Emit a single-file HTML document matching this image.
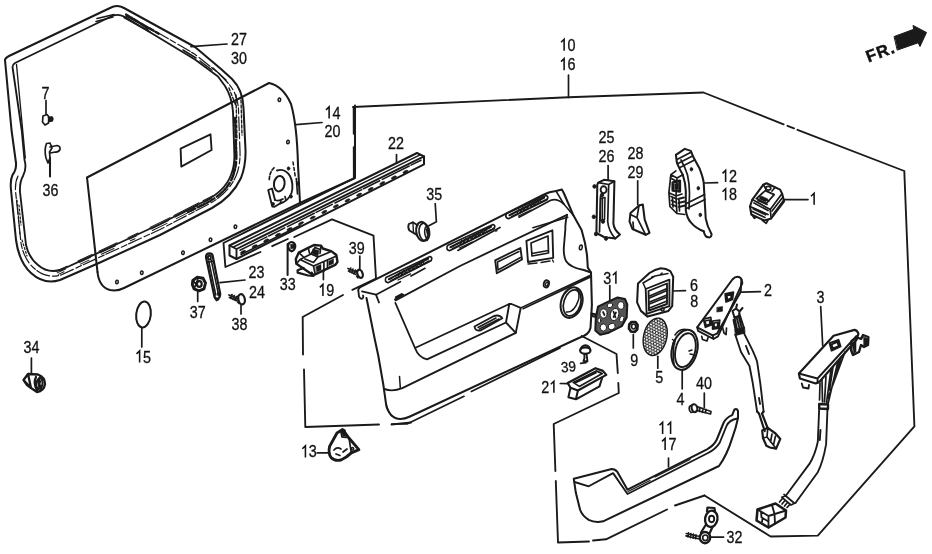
<!DOCTYPE html>
<html><head><meta charset="utf-8"><title>Door lining</title>
<style>
html,body{margin:0;padding:0;background:#fff;}
body{width:932px;height:554px;overflow:hidden;}
svg{display:block;filter:grayscale(1);}
svg path,svg ellipse,svg line,svg circle,svg polygon,svg polyline,svg rect{fill:none;stroke:#1a1a1a;stroke-linecap:round;stroke-linejoin:round;}
svg text{font-family:"Liberation Sans",sans-serif;fill:#111;stroke:#111;stroke-width:0.3px;}
svg .f{fill:#1a1a1a;}
svg .w{fill:#fff;}
</style></head><body>
<svg width="932" height="554" viewBox="0 0 932 554">
<rect x="0" y="0" width="932" height="554" style="fill:#fff;stroke:none"/>
<path d="M5,60 L11.5,130 L16,163 Q16.5,170 12.5,175 Q10,180 11,190 L16,240 Q19,262 31,273 Q44,285 60,280 L100,262.5 L160,235 L212,208 Q232,197 241,178 Q246,165 245.5,150 L243.5,108 Q243,90 232,79 L221,69 L195,47 L124,8 Q117,4 110,8 L9,56 Q5,58 5,60 Z" stroke-width="2.04" />
<path d="M12.5,67 L21.7,130 L24.5,160 Q27,168 23,176 Q19.5,182 20,192 L26,245 Q29,258 38,265 Q48,274 62,269.5 L100,252 L160,224 L205,201 Q225,191 231,175 Q235,165 234.3,153 L233,112 Q232,97 225,86 L218,76.5 L195,59.5 L124,16.5 Q117,13 110,17 L15,63 Q12.5,64.5 12.5,67 Z" stroke-width="1.87" />
<path d="M18,176 Q15,182 15.5,191 L21,243 Q24,260 35,269 Q46,279 61,275 L100,257 L160,229.5 L208,204.5 Q228,194 236,176 Q240.5,165 240,151 L238.5,110 Q238,94 228,83 L219,73.5 L194.5,54 L150,28" stroke-width="1.19" stroke-dasharray="14 3 6 2"/>
<path d="M97,18.5 L114,14.5 M96,21.5 L113,17 M124,17.5 L150,32 M126,16 L152,30 M133,19 L148,29 M183,50 L196,58 M200,61 L212,70 M213,68 L226,80" stroke-width="1.53" />
<path d="M236,95 L237,140 M241,100 L242,135 M236,150 L233,175 M229,88 L236,106" stroke-width="1.36" stroke-dasharray="3 2"/>
<path d="M56.0,271.2 L67.0,266.1 M57.2,272.9 L65.5,269.0 M58.4,274.4 L64.0,271.8 M78.0,261.0 L92.0,254.4 M79.2,262.6 L90.5,257.3 M80.4,264.1 L89.0,260.1 M99.0,251.2 L117.0,242.8 M100.2,252.8 L115.5,245.7 M101.4,254.3 L114.0,248.5 M128.0,237.6 L138.0,233.0 M129.2,239.3 L136.5,235.9 M130.4,240.8 L135.0,238.7 M150.0,227.4 L170.0,217.6 M151.2,229.0 L168.5,220.6 M152.4,230.5 L167.0,223.4 M174.0,215.5 L199.0,202.8 M175.2,217.1 L197.5,205.7 M176.4,218.6 L196.0,208.6 M203.0,200.7 L213.0,195.6 M204.2,202.3 L211.5,198.6 M205.4,203.8 L210.0,201.4" stroke-width="1.02" />
<path d="M17,200 L20,235 M19,205 L21,225 M22,240 L27,256" stroke-width="1.19" stroke-dasharray="2 2"/>
<path d="M16.5,64.5 L25.3,158" stroke-width="1.36" />
<path d="M235,118 L236.3,153 Q237,165 233,176 Q227,192.5 206.5,203 L188,212" stroke-width="2.38" stroke-dasharray="5 2 2 2 8 3"/>
<path d="M126,14.5 L160,34.5" stroke-width="2.21" stroke-dasharray="4 1.5 2 1.5 6 2"/>
<line x1="191.0" y1="46.6" x2="227.0" y2="44.0" stroke-width="1.70" />
<text x="231.0" y="45.0" font-size="16.2" textLength="15.9" lengthAdjust="spacingAndGlyphs">27</text>
<text x="231.0" y="64.2" font-size="16.2" textLength="15.9" lengthAdjust="spacingAndGlyphs">30</text>
<path d="M97.5,272 L87,177.5 L269,83 Q283,86 291,104 Q297,125 298,165 L300,203 L355,178 L355,105.5" stroke-width="2.04" />
<path d="M97.5,272 Q99,287 110,290 Q117,291.5 124,288 L300,203" stroke-width="2.04" />
<path d="M180.6,148.6 L210.5,134.3 L211.6,150 L181.3,166.6 Z" stroke-width="1.87" />
<ellipse cx="117.0" cy="282.0" rx="1.3" ry="1.8" transform="rotate(10 117.0 282.0)" stroke-width="1.53" />
<ellipse cx="141.8" cy="272.7" rx="1.3" ry="1.8" transform="rotate(10 141.8 272.7)" stroke-width="1.53" />
<ellipse cx="183.0" cy="252.7" rx="1.3" ry="1.8" transform="rotate(10 183.0 252.7)" stroke-width="1.53" />
<ellipse cx="210.5" cy="239.7" rx="1.3" ry="1.8" transform="rotate(10 210.5 239.7)" stroke-width="1.53" />
<ellipse cx="235.4" cy="226.7" rx="1.3" ry="1.8" transform="rotate(10 235.4 226.7)" stroke-width="1.53" />
<ellipse cx="279.4" cy="99.7" rx="1.3" ry="1.8" transform="rotate(10 279.4 99.7)" stroke-width="1.53" />
<ellipse cx="288.0" cy="142.0" rx="1.3" ry="1.8" transform="rotate(10 288.0 142.0)" stroke-width="1.53" />
<line x1="296.0" y1="124.6" x2="322.0" y2="122.5" stroke-width="1.70" />
<path d="M326.02,109.91 L329.12,106.92 L329.12,118.50" style="stroke:#111;stroke-width:1.55;stroke-linecap:butt;stroke-linejoin:miter;fill:none"/>
<text x="332.5" y="118.5" font-size="16.2" textLength="8.0" lengthAdjust="spacingAndGlyphs">4</text>
<text x="324.5" y="137.0" font-size="16.2" textLength="15.9" lengthAdjust="spacingAndGlyphs">20</text>
<ellipse cx="279.3" cy="183.7" rx="5.3" ry="7.8" transform="rotate(8 279.3 183.7)" stroke-width="2.04" />
<path d="M277,170.5 Q285,168 290,176 Q294,184 291.5,193 Q288.5,201 280,203.5 L274.6,206.8 L272.3,206.6 L268.2,190 L272,188.5 L275,200" stroke-width="1.87" />
<path d="M269.3,179.6 Q269.5,171 275.5,166.5" stroke-width="1.70" stroke-dasharray="3 2"/>
<path d="M275,200 Q279,201.5 283,199 M280.5,203.5 L281,199.5 M286,200.5 L285,196.5 M296.3,178.5 L297.5,194" stroke-width="1.70" />
<path d="M293,162 L295.5,178" stroke-width="1.53" stroke-dasharray="3 2.5"/>
<ellipse class="f" cx="288.5" cy="168.5" rx="1.4" ry="1.8" stroke-width="0.6"/>
<ellipse class="f" cx="291.0" cy="196.5" rx="1.4" ry="1.8" stroke-width="0.6"/>
<ellipse class="f" cx="273.0" cy="204.0" rx="1.4" ry="1.8" stroke-width="0.6"/>
<ellipse class="f" cx="298.0" cy="183.5" rx="1.4" ry="1.8" stroke-width="0.6"/>
<text x="41.5" y="98.5" font-size="16.2" textLength="8.0" lengthAdjust="spacingAndGlyphs">7</text>
<line x1="46.0" y1="100.5" x2="46.0" y2="114.0" stroke-width="1.70" />
<path d="M43,116 L47,114.5 L49,117 L48.5,123 L45,125 L42.5,122 Z M48.5,117.5 L52,117 Q53.5,119 52,121 L48.8,121.5" stroke-width="1.70" />
<path class="f" d="M48.5,117.5 L52,117 Q53.5,119 52,121 L48.8,121.5 Z" stroke-width="0.6"/>
<path d="M46.5,143.5 Q44,150 46,158 L48,163 L50,158 L49.5,152 L52,148 L50,143 Z M50,147 L57,145.5 Q60.5,146 60,149.5 Q58.5,152.5 55,152 L50.5,153" stroke-width="1.70" />
<line x1="50.0" y1="158.0" x2="50.0" y2="176.5" stroke-width="2.04" />
<text x="42.5" y="195.5" font-size="16.2" textLength="15.9" lengthAdjust="spacingAndGlyphs">36</text>
<text x="23.5" y="353.0" font-size="16.2" textLength="15.9" lengthAdjust="spacingAndGlyphs">34</text>
<line x1="31.4" y1="358.0" x2="31.4" y2="373.0" stroke-width="1.70" />
<path d="M23.5,380 L28,374 L38,374.5 Q45,377 45,384 Q44,391 37,392 L31,388 Z M28,374 L31,388 M36,377 Q33,383 37,390 M40,377 Q37,383 41,389 M23.5,380 L27,385 L31,388" stroke-width="2.29" />
<ellipse cx="39.5" cy="383.5" rx="3.0" ry="5.5" transform="rotate(10 39.5 383.5)" stroke-width="2.04" />
<path d="M37.5,380 L41,387 M41.5,379.5 L38,387.5" stroke-width="1.53" />
<ellipse cx="143.5" cy="314.5" rx="7.3" ry="13.0" transform="rotate(6 143.5 314.5)" stroke-width="2.04" />
<line x1="141.8" y1="328.0" x2="141.8" y2="347.0" stroke-width="1.70" />
<path d="M136.52,353.91 L139.62,350.92 L139.62,362.50" style="stroke:#111;stroke-width:1.55;stroke-linecap:butt;stroke-linejoin:miter;fill:none"/>
<text x="143.0" y="362.5" font-size="16.2" textLength="8.0" lengthAdjust="spacingAndGlyphs">5</text>
<path d="M192.8,280.5 L197,277.3 L203,278.3 L205.5,283 L204,288.8 L199,290.8 L194,288.8 L192.3,284.5 Z" stroke-width="2.89" />
<ellipse cx="199.3" cy="284.0" rx="2.4" ry="2.8" transform="rotate(0 199.3 284.0)" stroke-width="2.21" />
<path d="M193,280.5 L196,284.3 L194,288.8 M196,284.3 L197,281 M197,277.3 L198,281" stroke-width="1.70" />
<line x1="197.7" y1="292.0" x2="197.7" y2="301.5" stroke-width="1.70" />
<text x="189.8" y="318.0" font-size="16.2" textLength="15.9" lengthAdjust="spacingAndGlyphs">37</text>
<path d="M206,257.2 Q206,253.6 209.3,253.4 Q212.8,253.6 212.8,256.5 L220.2,293.7 Q220.3,298 217.2,298.8 Q214.5,298.6 214.2,295.4 Z" stroke-width="2.21" />
<path d="M208.7,261 L215.8,295 M211.2,260 L218.4,294" stroke-width="1.53" />
<ellipse cx="209.4" cy="257.6" rx="1.5" ry="1.9" transform="rotate(0 209.4 257.6)" stroke-width="1.87" />
<ellipse class="f" cx="218.8" cy="294" rx="1.6" ry="2" stroke-width="0.6"/>
<path d="M207,262.5 L213.5,261 M214.5,297.2 L216.5,300.5 L218.5,299.5" stroke-width="1.70" />
<line x1="220.0" y1="282.7" x2="245.0" y2="280.0" stroke-width="1.70" />
<text x="248.6" y="277.5" font-size="16.2" textLength="15.9" lengthAdjust="spacingAndGlyphs">23</text>
<text x="249.0" y="298.0" font-size="16.2" textLength="15.9" lengthAdjust="spacingAndGlyphs">24</text>
<path d="M229,295 L237.5,298.5 M229.5,297.5 L237,300.7 M230.8,298.3 L232,294.6 M233,299.3 L234.2,295.6 M235.2,300.3 L236.4,296.6" stroke-width="1.87" />
<ellipse cx="241.6" cy="299.3" rx="3.2" ry="5.2" transform="rotate(-12 241.6 299.3)" stroke-width="2.21" />
<path d="M238.6,295.5 L237.2,296.8 M239,303.5 L237.5,302" stroke-width="1.53" />
<line x1="241.0" y1="305.5" x2="241.0" y2="314.0" stroke-width="1.70" />
<text x="231.6" y="330.2" font-size="16.2" textLength="15.9" lengthAdjust="spacingAndGlyphs">38</text>
<path d="M288.3,245 Q288.5,242.3 291.5,242 Q295,242.5 295.3,246 Q295,250.5 291.5,251.3 Q288.6,250.5 288.3,247" stroke-width="2.21" />
<path class="f" d="M290.5,244.5 L294,244.3 L294.2,248.3 L291,248.8 Z" stroke-width="0.6"/>
<line x1="287.6" y1="244.0" x2="287.6" y2="275.0" stroke-width="2.04" />
<text x="279.8" y="289.7" font-size="16.2" textLength="15.9" lengthAdjust="spacingAndGlyphs">33</text>
<path d="M295.8,259 L298.8,252.6 L308.2,247.9 L314,245 L321,245.6 L322.8,248.5 L331.6,251.4 L336.3,255 L337.5,262 L335.2,264.9 L315.2,274.3 L312.5,274.8 L296.4,263.8 Z" stroke-width="2.38" />
<path d="M297.6,270.2 L302.3,268.5 M311.7,272.6 L313.5,276 L308.2,275.5 L297.6,272.6 L297.6,270.2 L303.5,268" stroke-width="2.21" />
<path d="M296.4,263.8 L300,259.5 L313.5,266 L336.5,256 M313.5,266 L315.2,274.3 M298.8,252.6 L304,257.5 L300,259.5 M304,257.5 L311,254 L315,247.5 M308.2,247.9 L309.5,253 M311,254 L318,257 L330,252 M318,257 L313.5,262.5 L305,259 M321,245.6 L320,253.5 M315,247.5 L320,249.5 M323.9,262 L323.9,271 M327.5,260.5 L327.5,268.5" stroke-width="1.70" />
<path class="f" d="M316,266.5 L321,264.5 L321,270 L316.5,272 Z M329,261 L333.5,258.8 L333.5,263.5 L329,265.5 Z M313,249 L319,250.5 L318,256 L312.5,254 Z" stroke-width="0.5"/>
<line x1="323.4" y1="271.0" x2="323.4" y2="279.6" stroke-width="1.70" />
<path d="M319.82,287.41 L322.92,284.42 L322.92,296.00" style="stroke:#111;stroke-width:1.55;stroke-linecap:butt;stroke-linejoin:miter;fill:none"/>
<text x="326.3" y="296.0" font-size="16.2" textLength="8.0" lengthAdjust="spacingAndGlyphs">9</text>
<text x="348.8" y="253.8" font-size="16.2" textLength="15.9" lengthAdjust="spacingAndGlyphs">39</text>
<line x1="359.8" y1="256.1" x2="359.8" y2="269.0" stroke-width="1.70" />
<path d="M348,268.5 L356,272 M348.5,271 L355.5,274.3 M349.5,271.8 L350.8,268 M351.8,272.8 L353,269 M354,274 L355.3,270" stroke-width="1.70" />
<ellipse cx="360.0" cy="273.8" rx="2.6" ry="4.2" transform="rotate(-20 360.0 273.8)" stroke-width="2.21" />
<path d="M357.5,270.5 L356,271.5 M358,278 L356.5,276" stroke-width="1.53" />
<text x="426.3" y="200.3" font-size="16.2" textLength="15.9" lengthAdjust="spacingAndGlyphs">35</text>
<path d="M435.2,203.5 L436.4,221.7 L428.8,225.8" stroke-width="1.70" />
<path d="M417.6,225.2 L412.9,222.3 L408.8,224 Q407.5,227 409.4,230.5 L416.4,234.6" stroke-width="1.87" />
<path d="M412.9,222.3 L413.5,232.8" stroke-width="1.36" />
<ellipse cx="422.2" cy="231.4" rx="6.0" ry="9.6" transform="rotate(-8 422.2 231.4)" stroke-width="2.04" />
<ellipse cx="424.3" cy="232.0" rx="5.2" ry="8.8" transform="rotate(-8 424.3 232.0)" stroke-width="1.70" />
<path d="M425.5,227 Q423.5,232 426,237.5 M426.5,229.5 L427.5,234" stroke-width="1.53" />
<text x="388.0" y="149.3" font-size="16.2" textLength="15.9" lengthAdjust="spacingAndGlyphs">22</text>
<line x1="396.5" y1="154.5" x2="396.5" y2="163.0" stroke-width="1.70" />
<path d="M229.5,245.5 L417,153 L424,156.3 L424,164.3 L236.5,259 L229.5,255.5 Z" stroke-width="2.04" />
<path d="M236.5,249 L424,156.3 M236.5,249 L229.5,245.5 M236.5,249 L236.5,259" stroke-width="1.87" />
<path d="M233,247.2 L420.5,154.6" stroke-width="1.53" />
<path d="M240,250.2 L421,160.2" stroke-width="1.53" stroke-dasharray="30 2 18 3"/>
<path d="M241,254.5 L300,225.5" stroke-width="1.53" />
<ellipse class="f" cx="243.0" cy="252.0" rx="2.7" ry="1.1" transform="rotate(-26 243.0 252.0)" stroke-width="0.6"/>
<ellipse class="f" cx="254.6" cy="246.3" rx="2.7" ry="1.1" transform="rotate(-26 254.6 246.3)" stroke-width="0.6"/>
<ellipse class="f" cx="266.2" cy="240.5" rx="2.7" ry="1.1" transform="rotate(-26 266.2 240.5)" stroke-width="0.6"/>
<ellipse class="f" cx="277.8" cy="234.8" rx="2.7" ry="1.1" transform="rotate(-26 277.8 234.8)" stroke-width="0.6"/>
<ellipse class="f" cx="289.4" cy="229.1" rx="2.7" ry="1.1" transform="rotate(-26 289.4 229.1)" stroke-width="0.6"/>
<ellipse class="f" cx="301.0" cy="223.3" rx="2.7" ry="1.1" transform="rotate(-26 301.0 223.3)" stroke-width="0.6"/>
<ellipse class="f" cx="312.6" cy="217.6" rx="2.7" ry="1.1" transform="rotate(-26 312.6 217.6)" stroke-width="0.6"/>
<ellipse class="f" cx="324.2" cy="211.9" rx="2.7" ry="1.1" transform="rotate(-26 324.2 211.9)" stroke-width="0.6"/>
<ellipse class="f" cx="335.8" cy="206.2" rx="2.7" ry="1.1" transform="rotate(-26 335.8 206.2)" stroke-width="0.6"/>
<ellipse class="f" cx="347.4" cy="200.4" rx="2.7" ry="1.1" transform="rotate(-26 347.4 200.4)" stroke-width="0.6"/>
<ellipse class="f" cx="359.0" cy="194.7" rx="2.7" ry="1.1" transform="rotate(-26 359.0 194.7)" stroke-width="0.6"/>
<ellipse class="f" cx="370.6" cy="189.0" rx="2.7" ry="1.1" transform="rotate(-26 370.6 189.0)" stroke-width="0.6"/>
<ellipse class="f" cx="382.2" cy="183.2" rx="2.7" ry="1.1" transform="rotate(-26 382.2 183.2)" stroke-width="0.6"/>
<ellipse class="f" cx="393.8" cy="177.5" rx="2.7" ry="1.1" transform="rotate(-26 393.8 177.5)" stroke-width="0.6"/>
<ellipse class="f" cx="405.4" cy="171.8" rx="2.7" ry="1.1" transform="rotate(-26 405.4 171.8)" stroke-width="0.6"/>
<path d="M353.4,107 L353.5,134 M353.5,147 L353.6,178.5" stroke-width="1.36" />
<path d="M353.6,178.5 L223.5,243 L225.4,267 L260.5,252" stroke-width="1.87" />
<path d="M272.2,246.2 L287.8,239 M294.3,237 L332,219.3 L373.5,235.6 L376,278.5 L352.4,289.8" stroke-width="1.87" />
<path d="M343,295 L302.7,317 L303,354.5 M304,369.5 L305.3,427 L379,424.5 M391.5,424.5 L411,422.5" stroke-width="1.87" />
<path d="M353,107 L568.5,97.3 L703.5,92.5 L783.6,124.3 M787.5,125.8 L794,128.3 M797.5,129.8 L904.3,171 L914.4,426.4 L817.8,535.6 L770.6,536.5 L704.5,495.5" stroke-width="1.87" />
<path d="M704.5,495.5 L675,505.5 M667,509.5 L606,539.3 L593,540.5 M589,541.5 L558,542.5 L555.8,481 M555.4,471 L553.7,424 L618.8,393 L618.3,383 M617.8,373 L616.5,354 L581.7,336" stroke-width="1.87" />
<path d="M561.02,42.21 L564.12,39.22 L564.12,50.80" style="stroke:#111;stroke-width:1.55;stroke-linecap:butt;stroke-linejoin:miter;fill:none"/>
<text x="567.5" y="50.8" font-size="16.2" textLength="8.0" lengthAdjust="spacingAndGlyphs">0</text>
<path d="M561.02,61.61 L564.12,58.62 L564.12,70.20" style="stroke:#111;stroke-width:1.55;stroke-linecap:butt;stroke-linejoin:miter;fill:none"/>
<text x="567.5" y="70.2" font-size="16.2" textLength="8.0" lengthAdjust="spacingAndGlyphs">6</text>
<line x1="568.5" y1="75.0" x2="568.5" y2="97.5" stroke-width="1.70" />
<polygon class="f" points="894.4,36.4 913.7,29.3 913,25.4 926.5,32.5 920,46.5 918.2,42.8 897.6,50" stroke-width="1"/>
<text x="868.6" y="62.6" font-size="16.5" font-weight="bold" transform="rotate(-21 868.6 62.6)" style="letter-spacing:1.1px;stroke-width:0.5px">FR.</text>
<path d="M359.8,287.4 L544,194.5 Q549,191.6 556,191 L562,189.6 L564,193.5 L573.5,215.6 L581.6,230 L585,243 L587,255 L587.8,267.6 L591,272.5 L591.9,305 L590.5,328 Q589,335 578.8,338 L410,416.5 Q398,422 391,415 Q386.5,409 386,403.6 L383.3,384.5 L378.2,355.3 L374.5,338 L366.5,298" stroke-width="2.04" />
<path d="M359.8,287.4 Q357.5,289 358.5,292 L359,296.3 Q360.5,299.5 362.5,298.5 Q364,297 363,295.5 M362,291.4 L376,294.7 L379,302.5" stroke-width="1.87" />
<path d="M376,294.7 L400.4,281.7 M411,276 L425,268.3 M457.9,250.4 L500,227.5 M519,217.2 L550.8,200.3 Q557,198 563.8,204" stroke-width="1.70" />
<path d="M395.5,300.4 L460,266 L567,214.8" stroke-width="1.87" />
<path d="M532.9,227.8 L567.8,217.3" stroke-width="1.53" />
<path d="M394.7,299.3 L403.5,294.5 M395.5,297.2 L402,293.8" stroke-width="1.53" />
<path d="M567,214.8 Q565,225 565.4,228.6 L563.8,248 Q563.5,256 566,261 Q570,267.5 583.8,270 L591,272.5" stroke-width="1.87" />
<path d="M563.8,204 L573.5,215.6 M556,191 L563.8,204" stroke-width="1.53" />
<ellipse cx="580.8" cy="247.3" rx="1.4" ry="2.4" transform="rotate(10 580.8 247.3)" stroke-width="1.53" />
<path d="M386.0,277.5 L430.0,256.5 Q433.0,257.5 431.0,260.7 L388.0,282.7 Q384.0,281.7 386.0,277.5 Z" stroke-width="1.70" />
<path d="M389.0,279.2 L428.0,258.7" stroke-width="2.21" stroke-dasharray="5 1.5 3 1"/>
<path d="M391.0,280.7 L431.0,260.1" stroke-width="1.53" stroke-dasharray="7 2 2 1"/>
<path d="M398.0,276.4 L399.9,272.4 L401.8,274.6 L403.7,270.6 L405.5,272.8 L407.4,268.8 L409.3,271.1 L411.2,266.9 L413.1,269.2 L415.0,265.1 L416.9,267.4 L418.7,263.4 L420.6,265.6 L422.5,261.6 L424.4,263.8" stroke-width="1.19" />
<path d="M398.0,280.0 L434.0,262.7" stroke-width="1.36" stroke-dasharray="14 26"/>
<path d="M447.5,245.5 L493.0,224.5 Q496.0,225.5 494.0,228.7 L449.5,250.7 Q445.5,249.7 447.5,245.5 Z" stroke-width="1.70" />
<path d="M450.5,247.2 L491.0,226.7" stroke-width="2.21" stroke-dasharray="5 1.5 3 1"/>
<path d="M452.5,248.7 L494.0,228.1" stroke-width="1.53" stroke-dasharray="7 2 2 1"/>
<path d="M459.9,244.4 L461.8,240.3 L463.8,242.6 L465.7,238.6 L467.7,240.8 L469.6,236.8 L471.6,239.0 L473.5,234.9 L475.5,237.2 L477.4,233.2 L479.4,235.4 L481.3,231.3 L483.3,233.6 L485.2,229.6 L487.2,231.8" stroke-width="1.19" />
<path d="M459.5,248.0 L497.0,230.7" stroke-width="1.36" stroke-dasharray="14 26"/>
<path d="M506.5,213.5 L546.0,195.5 Q549.0,196.5 547.0,199.7 L508.5,218.7 Q504.5,217.7 506.5,213.5 Z" stroke-width="1.70" />
<path d="M509.5,215.2 L544.0,197.7" stroke-width="2.21" stroke-dasharray="5 1.5 3 1"/>
<path d="M511.5,216.7 L547.0,199.1" stroke-width="1.53" stroke-dasharray="7 2 2 1"/>
<path d="M517.4,213.2 L519.1,209.2 L520.8,211.7 L522.5,207.7 L524.1,210.1 L525.8,206.1 L527.5,208.6 L529.2,204.6 L530.9,207.0 L532.6,203.1 L534.3,205.5 L536.0,201.5 L537.7,203.9 L539.4,200.0 L541.1,202.4" stroke-width="1.19" />
<path d="M518.5,216.0 L550.0,201.7" stroke-width="1.36" stroke-dasharray="14 26"/>
<path d="M495.2,260.3 L520.4,248 L522,259.5 L496.8,273.3 Z" stroke-width="1.87" />
<path d="M497.5,262 L519,251.5 M498,270 L520.5,257.5 M497.5,262 L498,270" stroke-width="1.53" />
<path d="M526.4,240.8 L552.4,230.3 L553.2,257.9 L528,262 Z" stroke-width="1.87" />
<path d="M531,243 L548,236 L548.5,253 L532,256 Z M532,253.5 L548.3,250.5" stroke-width="1.70" />
<path d="M528,264 L537,263 M541,262.5 L550,261 M552.5,260 L553.5,262" stroke-width="1.36" />
<ellipse cx="546.4" cy="283.9" rx="2.6" ry="3.6" transform="rotate(15 546.4 283.9)" stroke-width="1.87" />
<ellipse cx="546.8" cy="284.2" rx="1.2" ry="2.0" transform="rotate(15 546.8 284.2)" stroke-width="1.36" />
<ellipse cx="571.6" cy="302.6" rx="10.5" ry="15.6" transform="rotate(17 571.6 302.6)" stroke-width="2.04" />
<ellipse cx="572.2" cy="302.9" rx="8.4" ry="13.4" transform="rotate(17 572.2 302.9)" stroke-width="1.70" />
<path d="M566.5,312 Q574,313 578.5,300 Q580,293 577,289.5" stroke-width="1.53" />
<path d="M395.4,303 L415,348 Q418.5,357.5 427,359.3 L506,322.5 L509.3,304 L415,348" stroke-width="1.87" />
<path d="M509.3,304 L511.5,304 L520.7,307.9 L515.8,332.8 L506,322.5" stroke-width="1.87" />
<path d="M520.7,307.9 L591,275 M523,308.8 L590.5,277" stroke-width="1.53" />
<path d="M515.8,332.8 L402.3,388.2 Q392.5,392 384.4,389" stroke-width="1.87" />
<path d="M399.5,376.4 L400.3,387.8" stroke-width="1.53" />
<path d="M474.5,326.5 L494,316 Q499.5,314.5 502.3,318.2 L481,330.3 Q475,331.5 474.5,326.5 Z" stroke-width="1.87" />
<path d="M478,327.5 L496,318 M479.5,329 L499,319" stroke-width="1.53" />
<path d="M391.7,424 L407,424 L464,396.3 M471.3,391.4 L560,348" stroke-width="1.70" />
<path d="M386,403.6 Q388,412 392,416" stroke-width="1.36" />
<text x="598.5" y="142.6" font-size="16.2" textLength="15.9" lengthAdjust="spacingAndGlyphs">25</text>
<text x="598.5" y="162.0" font-size="16.2" textLength="15.9" lengthAdjust="spacingAndGlyphs">26</text>
<line x1="608.1" y1="165.6" x2="608.1" y2="179.8" stroke-width="1.70" />
<path d="M598.3,182.7 L604,179.8 L614.4,181.3 L613.4,223.4 Q614,230 620,234.5 L615.3,238.6 L607.7,237.6 L604,237 L596.4,233 L597.3,184.5 Z" stroke-width="2.04" />
<path d="M598.3,182.7 L608.7,184.5 L614.4,181.3 M608.7,184.5 L607.7,221.5 Q608.5,231 615.3,238.6 M600.5,196 L599.5,232" stroke-width="1.70" />
<ellipse cx="603.6" cy="189.7" rx="3.0" ry="3.4" transform="rotate(0 603.6 189.7)" stroke-width="1.87" />
<path d="M600.5,198.5 L605,197.5 L604.5,219.5 L600.3,220.5 Z M602.5,198 L602.3,220" stroke-width="1.53" />
<ellipse class="f" cx="594.5" cy="186.4" rx="1.7" ry="1.9" stroke-width="0.8"/>
<ellipse class="f" cx="593.8" cy="216.8" rx="1.7" ry="1.9" stroke-width="0.8"/>
<ellipse class="f" cx="596.0" cy="234.0" rx="1.7" ry="1.9" stroke-width="0.8"/>
<ellipse class="f" cx="606.0" cy="238.5" rx="1.7" ry="1.9" stroke-width="0.8"/>
<ellipse class="f" cx="603.0" cy="221.5" rx="1.7" ry="1.9" stroke-width="0.8"/>
<ellipse class="f" cx="602.0" cy="195.0" rx="1.7" ry="1.9" stroke-width="0.8"/>
<text x="627.5" y="159.3" font-size="16.2" textLength="15.9" lengthAdjust="spacingAndGlyphs">28</text>
<text x="627.5" y="178.3" font-size="16.2" textLength="15.9" lengthAdjust="spacingAndGlyphs">29</text>
<line x1="637.7" y1="180.8" x2="637.7" y2="204.5" stroke-width="1.70" />
<path d="M630.5,213 L639,205.4 L642.8,204.5 L644.7,219.6 L649.5,232.9 L645.7,234.8 L632.4,229 L629.5,221.5 Z" stroke-width="2.04" />
<path d="M639,205.4 L637,217.7 L645.7,234.8 M630.5,214.5 L637,217.7 M633,222 L633.5,229" stroke-width="1.70" />
<path d="M722.52,173.41 L725.62,170.42 L725.62,182.00" style="stroke:#111;stroke-width:1.55;stroke-linecap:butt;stroke-linejoin:miter;fill:none"/>
<text x="729.0" y="182.0" font-size="16.2" textLength="8.0" lengthAdjust="spacingAndGlyphs">2</text>
<path d="M722.52,191.71 L725.62,188.72 L725.62,200.30" style="stroke:#111;stroke-width:1.55;stroke-linecap:butt;stroke-linejoin:miter;fill:none"/>
<text x="729.0" y="200.3" font-size="16.2" textLength="8.0" lengthAdjust="spacingAndGlyphs">8</text>
<line x1="704.7" y1="183.0" x2="717.6" y2="182.7" stroke-width="1.70" />
<path d="M675.9,154.9 L684.8,148.9 L690.8,150.9 L693.7,157.8 L699.7,168.8 Q703.2,178 703.7,182.7 L704.7,200.6 L705.7,218.4 Q707,226 711.6,234.3 Q711,238 708.6,237.3 Q705,237.5 703.7,231.3" stroke-width="2.04" />
<path d="M675.9,154.9 L676.9,162.8 Q680,170 682.8,174.7 Q685.5,183 685.8,190.6 L685.8,210.5 Q687,218 690.8,222.4 Q696,228.5 703.7,231.3" stroke-width="2.04" />
<path d="M681,160 Q685.5,168 687.5,175 Q689.5,184 689.5,193 L689,209 M677,159.5 L690.5,152.5 M678,163.5 L692,156.3 M680,167.5 L694.5,160 M686.5,203.5 L704.5,194.5 M686.5,208.5 L705,199.5" stroke-width="1.70" />
<ellipse class="f" cx="691.4" cy="169.2" rx="1.3" ry="1.8" stroke-width="0.8"/>
<ellipse class="f" cx="698.3" cy="188.2" rx="1.3" ry="1.8" stroke-width="0.8"/>
<ellipse class="f" cx="700.3" cy="214.9" rx="1.3" ry="1.8" stroke-width="0.8"/>
<path d="M675.9,170.8 L670.9,174.7 L668.9,192.6 L669.9,206.5 L676.9,213.5 L684.8,214.5 M670.9,174.7 L677,178 L682.8,174.7 M677,178 L676,196 L669.5,193 M676,196 L682,194 M676,196 L676.9,213.5 M672.5,198 L673,207 M679,200 L679.5,211" stroke-width="1.70" />
<path d="M672.8,182.5 L679.8,180.8 L679.8,191.5 L672.8,190.5 Z" stroke-width="2.72" />
<path d="M670.5,178 L676,181 M671,196.5 L675.5,198.5 M671.5,200.5 L676,202.5 M672,204.5 L676.5,206.5 M678,199 L684,197.5 M678.5,203 L684.5,201.5 M679,207 L685,205.5" stroke-width="1.87" />
<path class="f" d="M674.5,184 L678.5,183 L678.5,189.5 L674.5,189 Z" stroke-width="0.5"/>
<path d="M811.02,196.21 L814.12,193.22 L814.12,204.80" style="stroke:#111;stroke-width:1.55;stroke-linecap:butt;stroke-linejoin:miter;fill:none"/>
<line x1="784.1" y1="199.6" x2="808.0" y2="199.6" stroke-width="1.70" />
<path d="M752.3,199.6 L763.3,184.7 L766.5,183.3 L780.1,189.6 L782.1,193.6 L784.1,201.5 L771.2,218.4 L764.3,220.4 L751.3,214.5 L750,206.5 Z" stroke-width="2.04" />
<path d="M752.3,199.6 L770.2,209.5 L782.1,193.6 M770.2,209.5 L771.2,218.4 M750,206.5 L768,214.5 M756.3,198.6 L765.3,190.6 L774.2,194.6 L766.3,203.5 Z M758,200.5 L767,204.5 M760,197 L769,201" stroke-width="1.70" />
<ellipse cx="768.2" cy="188.2" rx="2.6" ry="1.9" transform="rotate(0 768.2 188.2)" stroke-width="1.70" />
<path d="M752.3,215.4 L754.3,218.4 L756.5,217 M762.3,220.4 L766.2,223.4 L768,220" stroke-width="1.70" />
<path class="f" d="M753,207.5 L766,213.5 L766,215.6 L753,209.6 Z M759,199 L765.5,202 L768,199 L761.5,196 Z" stroke-width="0.5"/>
<path d="M751,211 L765,217.5 M772,211 L783,197 M773,214.5 L783.5,200.5 M754,203 L768,210.5 M763.3,184.7 L766,189 M775,187.5 L772,191" stroke-width="1.70" />
<text x="603.3" y="283.8" font-size="16.2" textLength="8.0" lengthAdjust="spacingAndGlyphs">3</text>
<path d="M612.79,275.21 L615.89,272.22 L615.89,283.80" style="stroke:#111;stroke-width:1.55;stroke-linecap:butt;stroke-linejoin:miter;fill:none"/>
<line x1="609.8" y1="285.5" x2="609.8" y2="300.5" stroke-width="1.70" />
<path d="M595.8,317.5 L598,306.7 L606.7,302.3 L617.5,297.5 L625,299 L627.3,304.5 L626.7,317.5 L621.8,326.2 L608.8,332.7 L600.2,334.8 L595.3,330.5 Z" style="fill:#555;stroke:#1a1a1a;stroke-width:2.0"/>
<ellipse cx="603.6" cy="313.5" rx="3.6" ry="4.6" transform="rotate(0 603.6 313.5)" style="fill:#fff;stroke:#1a1a1a;stroke-width:0.9"/>
<ellipse cx="614.6" cy="314.5" rx="4.2" ry="6.2" transform="rotate(15 614.6 314.5)" style="fill:#fff;stroke:#1a1a1a;stroke-width:0.9"/>
<ellipse cx="603.4" cy="327.5" rx="3.2" ry="3.6" transform="rotate(0 603.4 327.5)" style="fill:#fff;stroke:#1a1a1a;stroke-width:0.9"/>
<ellipse cx="611.8" cy="326.5" rx="3.6" ry="3.0" transform="rotate(-20 611.8 326.5)" style="fill:#fff;stroke:#1a1a1a;stroke-width:0.9"/>
<ellipse cx="620.8" cy="305.5" rx="3.2" ry="3.8" transform="rotate(0 620.8 305.5)" style="fill:#fff;stroke:#1a1a1a;stroke-width:0.9"/>
<ellipse cx="610.0" cy="305.3" rx="2.8" ry="2.2" transform="rotate(-20 610.0 305.3)" style="fill:#fff;stroke:#1a1a1a;stroke-width:0.9"/>
<ellipse cx="621.8" cy="319.0" rx="2.0" ry="3.2" transform="rotate(20 621.8 319.0)" style="fill:#fff;stroke:#1a1a1a;stroke-width:0.9"/>
<ellipse cx="599.3" cy="320.5" rx="1.5" ry="2.4" transform="rotate(0 599.3 320.5)" style="fill:#fff;stroke:#1a1a1a;stroke-width:0.9"/>
<path d="M603,312 L604.5,315 M613.5,311.5 L615.5,317.5 M616,312.5 L613.5,317" stroke-width="1.70" />
<path d="M591.5,313.5 L596,314.5 L596,316.8 L592,316 Z" stroke-width="2.21" />
<text x="690.0" y="290.5" font-size="16.2" textLength="8.0" lengthAdjust="spacingAndGlyphs">6</text>
<text x="690.3" y="307.2" font-size="16.2" textLength="8.0" lengthAdjust="spacingAndGlyphs">8</text>
<line x1="673.2" y1="291.0" x2="685.5" y2="290.6" stroke-width="1.70" />
<path d="M638,283.4 L649.5,273 Q655,269.5 660.8,268.3 Q666,268.5 670.3,271.1 L673.2,276.8 L672.2,306.2 L668.4,310.9 L647.6,316.6 L640.9,310.9 L637.1,302.4 Z" stroke-width="2.04" />
<path d="M645.7,289 L669.4,279.6 L669.4,306.2 L646.6,313.8 Z M648.5,291 L667,283.5 L667,304 L649,310.5 Z" stroke-width="1.87" />
<path d="M649.5,296 L667,288.5 M649.5,298 L667,290.5 M649.5,302 L667,295 M649.5,304 L667,297 M649.5,308 L667,301" stroke-width="1.53" />
<path d="M645.7,289 L643,283 M643,283 L655,276 L668,273.5 M650.5,279 L652.5,276.5 M660,275 L662,273" stroke-width="1.53" />
<ellipse cx="662.5" cy="309.5" rx="1.6" ry="1.6" transform="rotate(0 662.5 309.5)" stroke-width="1.53" />
<path d="M629.3,324.5 L631.5,322 L635.5,322 L637.6,325 L637.2,329.5 L634.5,332 L631,331.5 L629,328.5 Z" stroke-width="2.72" />
<ellipse cx="633.6" cy="326.5" rx="2.0" ry="2.4" transform="rotate(0 633.6 326.5)" stroke-width="1.53" />
<line x1="633.3" y1="334.6" x2="633.3" y2="347.9" stroke-width="1.70" />
<text x="630.3" y="365.5" font-size="16.2" textLength="8.0" lengthAdjust="spacingAndGlyphs">9</text>
<defs><pattern id="mesh" width="3" height="5.2" patternUnits="userSpaceOnUse" patternTransform="rotate(13)"><rect width="3" height="5.2" style="fill:#222;stroke:none"/><circle cx="0" cy="0" r="1.05" style="fill:#fff;stroke:none"/><circle cx="3" cy="0" r="1.05" style="fill:#fff;stroke:none"/><circle cx="0" cy="5.2" r="1.05" style="fill:#fff;stroke:none"/><circle cx="3" cy="5.2" r="1.05" style="fill:#fff;stroke:none"/><circle cx="1.5" cy="2.6" r="1.05" style="fill:#fff;stroke:none"/></pattern></defs>
<ellipse cx="655.2" cy="336.8" rx="11.6" ry="19" transform="rotate(13 655.2 336.8)" style="fill:url(#mesh);stroke:#1a1a1a;stroke-width:1.4"/>
<line x1="657.8" y1="356.3" x2="657.8" y2="368.2" stroke-width="1.70" />
<text x="655.3" y="383.0" font-size="16.2" textLength="8.0" lengthAdjust="spacingAndGlyphs">5</text>
<ellipse cx="684.6" cy="349.8" rx="12.6" ry="20.4" transform="rotate(14 684.6 349.8)" stroke-width="2.04" />
<ellipse cx="685.4" cy="350.2" rx="9.8" ry="17.3" transform="rotate(14 685.4 350.2)" stroke-width="1.87" />
<path d="M675,335 Q679,328.5 686,329.5 M674,364 Q672,352 675,340" stroke-width="1.53" />
<path d="M672.5,339.5 L675,341.5 M672.8,343 L674.8,344 M689,351 L692,350 M690,354 L692.5,354.5" stroke-width="1.53" />
<line x1="682.2" y1="370.4" x2="682.2" y2="388.8" stroke-width="1.70" />
<text x="676.6" y="405.0" font-size="16.2" textLength="8.0" lengthAdjust="spacingAndGlyphs">4</text>
<text x="696.0" y="389.4" font-size="16.2" textLength="15.9" lengthAdjust="spacingAndGlyphs">40</text>
<line x1="704.3" y1="393.1" x2="704.3" y2="407.2" stroke-width="1.70" />
<ellipse cx="694.5" cy="408.2" rx="2.8" ry="4.0" transform="rotate(-15 694.5 408.2)" stroke-width="2.04" />
<path d="M692,405 L689.5,406.5 Q688.5,410 691,412.5 L693.5,412 M697,406.5 L711,411.5 M696.5,410.5 L710.5,414 L711,411.5 M700,407.5 L699.3,411.5 M703,408.5 L702.3,412.3 M706,409.7 L705.3,413.2" stroke-width="1.70" />
<text x="764.0" y="296.0" font-size="16.2" textLength="8.0" lengthAdjust="spacingAndGlyphs">2</text>
<line x1="741.5" y1="292.1" x2="760.4" y2="291.7" stroke-width="1.70" />
<path d="M697.2,327.3 L732.4,279.5 Q735,276.5 737.9,276.7 Q740.8,277.2 741.5,279.5 L740.6,292.1 L717.1,333.6 L712.6,335.4 Z" stroke-width="2.04" />
<path d="M697.2,327.3 L698.1,330.9 L713.5,339 L718,336.4 L742.4,283 L741.5,279.5 M713.5,339 L712.6,335.4" stroke-width="1.87" />
<path d="M725.2,293.9 L733.4,292.1 L732.4,299.3 L726.1,302 Z M726.8,295.5 L731.5,294.3 L731,298.3 L727.3,300 Z" stroke-width="1.87" />
<path class="f" d="M717.1,307.4 L722.5,306.5 L722.5,311.2 L717.1,312 Z" stroke-width="0.6"/>
<path d="M703.5,319.2 L710.8,317.4 L711.7,324.6 L705.4,327.3 Z M712.6,321 L719.8,320.1 L718.9,328.2 L712.6,329.1 Z M705,321 L709.5,320 L710,324 L706,325.5 Z M714,323 L718,322.3 L717.5,326.8 L714,327.3 Z" stroke-width="1.70" />
<path d="M701.7,336.4 L702.5,339.5 L707,341 L708.1,337.5 M722.5,327.3 L724,333 L726.1,334.5 L726.5,328" stroke-width="1.70" />
<path d="M732.5,311 L736,308.5 L739.5,311.5 L739,316 L734.5,317.5 Z M736,308.5 L737,304.5 M739.5,311.5 L742.5,308" stroke-width="2.04" />
<path d="M734.5,317.5 L737.5,331 M736.5,317 L740,330 M738.5,316 L742,329 M739.5,314 L744,328 M733.5,320 L736,332" stroke-width="1.87" />
<path class="f" d="M735.2,329.5 L744.5,327 L745,333 L735.8,335.5 Z" stroke-width="0.8"/>
<path d="M735.2,334.5 L741,352 Q747,362 749.5,366 L752.8,383.3 L757.1,411.5 M744.2,333.6 L752.3,349.9 Q756,358 757.1,361.7 L760.3,383.3 L763.6,411.5 M746,346 L749,354 M759,398 L760,404" stroke-width="1.87" />
<path d="M757.1,411.5 L759,413.5 L764.7,431 M763.6,411.5 L762,413.5 L768,429" stroke-width="2.21" />
<path d="M762.2,430.6 L767.8,427.8 L775.5,433.5 L780.3,438.9 L776.1,448.6 L770,447.5 L766.4,445.8 L763,438 Z" stroke-width="2.21" />
<path d="M767.8,427.8 L767,437 L776.1,448.6 M767,437 L763,438 M772,434 L770.5,442 M775.5,436 L773.5,445" stroke-width="1.70" />
<text x="816.5" y="303.3" font-size="16.2" textLength="8.0" lengthAdjust="spacingAndGlyphs">3</text>
<line x1="820.7" y1="306.6" x2="822.7" y2="345.7" stroke-width="1.70" />
<path d="M798.9,373.5 L833.6,335.8 L854.5,329.9 Q857.5,330.5 858.4,333.8 L856.5,339.8 L819.7,381.5 L815.7,383.5 L799.9,378.5 Z" stroke-width="2.21" />
<path d="M798.9,373.5 L817.5,378.5 L856.5,336 M817.5,378.5 L817.7,383" stroke-width="1.87" />
<path d="M829.6,343.2 L838.5,339.8 L840.6,346.5 L831.6,350.7 Z M831.5,344.5 L837.5,342 L838.7,346 L832.8,348.6 Z" stroke-width="1.87" />
<path d="M851.5,341 L857,337.5 L861,339 L863,335 L868.4,337 L868,345 L864,347 L861,345 L859,352 L853,355 L851,350 Z" stroke-width="2.38" />
<path class="f" d="M863.5,337 L868,338.5 L867.5,344.5 L864,346 Z M852.5,343 L856,341 L856,352 L853.5,353.5 Z" stroke-width="0.6"/>
<path d="M801.8,383.5 L803,387.5 L808.5,388.5 L809,385" stroke-width="1.87" />
<path d="M822,380 L822.5,402 M826,376 L824.5,402 M831,369 L826.5,403 M838,361 L828,404 M845,352 L828,398 M820,383 L819.5,400 M841,357 L835,378 M833,367 L829.5,390" stroke-width="1.70" />
<path d="M819.2,404 L828,404.5 L828,409 L819.2,408.5 Z" stroke-width="2.38" />
<path d="M819.2,408.3 L817.8,441.7 Q815,455 809.4,463.9 L785.8,495.8 M827.5,408.3 L826.1,444.4 Q823,462 817.8,472.2 L795.6,502.8 M820.5,430 L819.8,440" stroke-width="1.87" />
<path d="M785.8,495.8 L781.7,497.2 L791,505 L795.6,502.8 M784,494.5 L793.5,502.5 M782.5,498.5 L779.5,502 M785,500.5 L782,504 M787.5,502.5 L784.5,506 M790,504.3 L787,507.5" stroke-width="1.70" />
<path d="M757.5,509.5 L775.5,503.5 L786,510.5 L785.5,517.5 L768.5,527.5 L756.5,520.5 Z" stroke-width="2.55" />
<path d="M757.5,509.5 L768.5,516 L786,510.5 M768.5,516 L768.5,527.5 M761,511.5 L761.5,517.5 L768.5,521.5 M772,505 L774.5,514 M774.5,514 L775,523.5 M762,522 L762.5,518" stroke-width="1.87" />
<text x="541.3" y="392.8" font-size="16.2" textLength="8.0" lengthAdjust="spacingAndGlyphs">2</text>
<path d="M550.79,384.21 L553.89,381.22 L553.89,392.80" style="stroke:#111;stroke-width:1.55;stroke-linecap:butt;stroke-linejoin:miter;fill:none"/>
<line x1="560.3" y1="383.5" x2="567.7" y2="383.7" stroke-width="1.70" />
<path d="M567.7,383 L595.5,368.2 L602.9,370.9 L606.3,374.9 L577.9,390.5 L570.5,387.8 Z" stroke-width="2.21" />
<path d="M573.2,382.4 L596.2,370.9 L602.3,373.6 L579.3,386.4 Z M575,383 L596,372.8" stroke-width="1.70" />
<path d="M570.5,387.8 L568.4,397.3 L575.9,399.3 L577.9,390.5 M575.9,399.3 L599.5,386.4 L602.3,377.2" stroke-width="2.04" />
<text x="561.5" y="372.5" font-size="14.6" textLength="15" lengthAdjust="spacingAndGlyphs" transform="rotate(-6 561.5 372.5)">39</text>
<line x1="580.6" y1="363.4" x2="586.0" y2="362.7" stroke-width="1.70" />
<ellipse cx="585.3" cy="350.6" rx="5.2" ry="3.3" transform="rotate(0 585.3 350.6)" stroke-width="2.21" />
<path d="M580.5,349.5 Q581.5,345.5 585.5,345.2 Q589.5,345.5 590,349.5 M584.3,354 L584.5,358 L583.5,361 L587.5,361.5 L587,358 L586.6,354" stroke-width="1.87" />
<path d="M659.52,425.31 L662.62,422.32 L662.62,433.90" style="stroke:#111;stroke-width:1.55;stroke-linecap:butt;stroke-linejoin:miter;fill:none"/>
<path d="M667.49,425.31 L670.59,422.32 L670.59,433.90" style="stroke:#111;stroke-width:1.55;stroke-linecap:butt;stroke-linejoin:miter;fill:none"/>
<path d="M662.02,441.41 L665.12,438.42 L665.12,450.00" style="stroke:#111;stroke-width:1.55;stroke-linecap:butt;stroke-linejoin:miter;fill:none"/>
<text x="668.5" y="450.0" font-size="16.2" textLength="8.0" lengthAdjust="spacingAndGlyphs">7</text>
<line x1="668.5" y1="458.1" x2="668.5" y2="466.8" stroke-width="1.70" />
<path d="M573.8,478.8 L611.7,469 Q615,469 617.4,471.9 L627.5,489.7 L707,449.3 Q714,445.5 716.8,439.5 L723.5,423 Q726,417.5 732.2,415.1 L734.5,409.4 Q737,408.5 738,410.8 L738,418 Q736,428 732.2,438.1 Q727,455 719,466 L603.1,521.3 Q595,523 588.7,519.9 Q582,515.5 580.1,509.8 L575.8,492.6 Z" stroke-width="2.04" />
<path d="M574.5,482 L588.7,486.3 L613.1,473.1 L627.5,494 L708,453 Q716,449 719.8,442.5 L726.5,426 Q729,420 737.5,418.5" stroke-width="1.87" />
<path d="M628,491.5 L650,480.5 M655,477 L690,459.5" stroke-width="1.36" />
<text x="726.5" y="542.9" font-size="16.2" textLength="15.9" lengthAdjust="spacingAndGlyphs">32</text>
<line x1="709.3" y1="537.1" x2="723.6" y2="537.1" stroke-width="1.70" />
<ellipse cx="711.3" cy="518.8" rx="6.2" ry="8.2" transform="rotate(10 711.3 518.8)" stroke-width="2.38" />
<ellipse cx="711.6" cy="519.0" rx="2.6" ry="3.2" transform="rotate(0 711.6 519.0)" stroke-width="1.87" />
<ellipse cx="705.0" cy="537.6" rx="5.2" ry="5.6" transform="rotate(0 705.0 537.6)" stroke-width="2.38" />
<ellipse cx="705.3" cy="537.8" rx="2.6" ry="2.8" transform="rotate(0 705.3 537.8)" stroke-width="1.70" />
<path d="M706,524.5 L701,532.5 M712.5,527 L709.5,533.5 M707,511.5 L707.5,507.5 L714.5,508 L715,512" stroke-width="2.21" />
<path d="M686.3,533.5 L700,536.5 M686,535.8 L699.5,539 M688.5,532.8 L688,537 M691,533.5 L690.5,537.6 M693.5,534.2 L693,538.2 M696,534.8 L695.5,538.7" stroke-width="1.70" />
<path d="M302.32,448.81 L305.42,445.82 L305.42,457.40" style="stroke:#111;stroke-width:1.55;stroke-linecap:butt;stroke-linejoin:miter;fill:none"/>
<text x="308.8" y="457.4" font-size="16.2" textLength="8.0" lengthAdjust="spacingAndGlyphs">3</text>
<line x1="317.2" y1="452.9" x2="328.6" y2="452.9" stroke-width="1.70" />
<path d="M342.6,429.6 L337,433 L329.6,446.4 Q328,453 331,457.5 Q335,461.5 341,460 Q346,458 351.3,452.9 L358.9,449.6 L349.1,438.3 Z" stroke-width="2.89" />
<path d="M344.5,430.5 L346.5,436 L349.1,438.3 M341,432 L342,437 L346,437.5 M349.1,438.3 L351.3,452.9 M334,450 Q337,446.5 341,449 M336,454 L340,455.5 M343,452 L347,449" stroke-width="1.70" />
<path class="f" d="M341,430.5 L345,429.5 L346.5,436 L343,436.5 Z" stroke-width="0.6"/>
<ellipse cx="352.5" cy="448.8" rx="1.2" ry="1.2" transform="rotate(0 352.5 448.8)" stroke-width="1.53" />
</svg>
</body></html>
